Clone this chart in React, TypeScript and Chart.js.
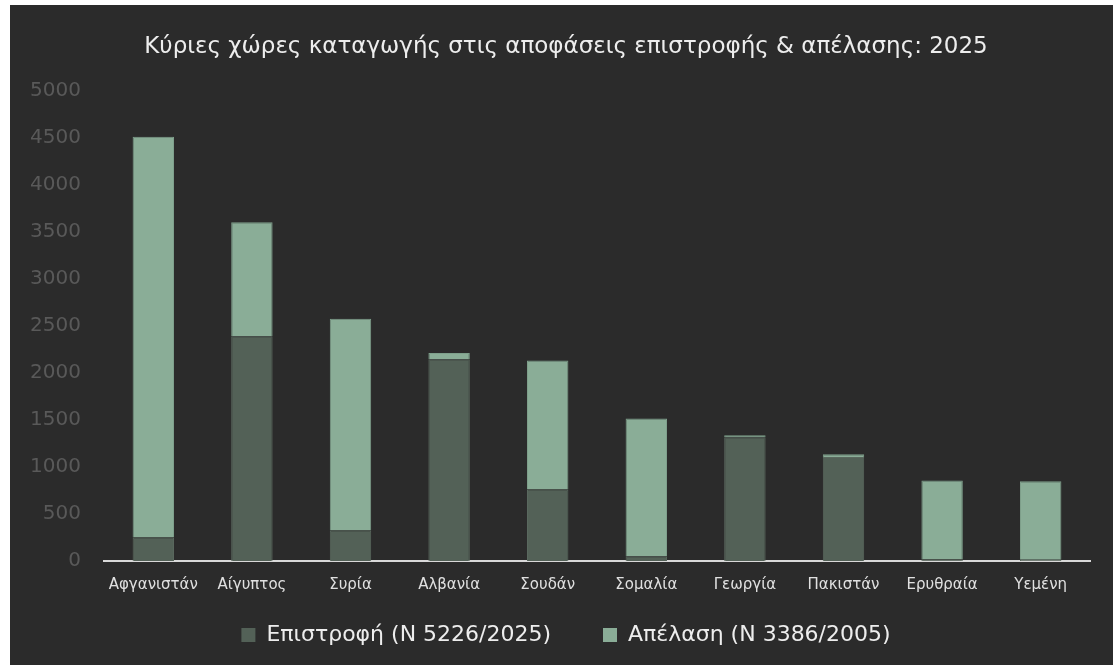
import React, { useEffect, useRef } from "react";
import { Chart, registerables } from "chart.js";

Chart.register(...registerables);

const categories = [
  "Αφγανιστάν",
  "Αίγυπτος",
  "Συρία",
  "Αλβανία",
  "Σουδάν",
  "Σομαλία",
  "Γεωργία",
  "Πακιστάν",
  "Ερυθραία",
  "Υεμένη",
];
const returnValues = [250, 2390, 325, 2145, 760, 50, 1315, 1105, 15, 12];
const deportValues = [4260, 1210, 2250, 65, 1370, 1465, 22, 30, 840, 835];
const yTicks = [0, 500, 1000, 1500, 2000, 2500, 3000, 3500, 4000, 4500, 5000];

const titleText = "Κύριες χώρες καταγωγής στις αποφάσεις επιστροφής & απέλασης: 2025";
const returnLabel = "Επιστροφή (Ν 5226/2025)";
const deportLabel = "Απέλαση (Ν 3386/2005)";

const FONT = "'DejaVu Sans', 'Noto Sans', sans-serif";

// lets the y-axis tick labels extend into the left padding without being clipped
const unclipYLabels = {
  id: "unclipYLabels",
  afterLayout(chart: any) {
    if (chart.scales.y) chart.scales.y.left = 0;
  },
};

export default function App() {
  const ref = useRef<HTMLCanvasElement | null>(null);

  useEffect(() => {
    if (!ref.current) return;
    const defaultLabels = (Chart as any).defaults.plugins.legend.labels.generateLabels;
    const chart = new Chart(ref.current, {
      type: "bar",
      data: {
        labels: categories,
        datasets: [
          {
            label: returnLabel,
            data: returnValues,
            backgroundColor: "#536157",
            borderColor: "#5a685e",
            borderWidth: 1,
            barPercentage: 0.42,
            categoryPercentage: 1,
          },
          {
            label: deportLabel,
            data: deportValues,
            backgroundColor: "#8aad97",
            borderColor: "#7e9f8b",
            borderWidth: 1,
            barPercentage: 0.42,
            categoryPercentage: 1,
          },
        ],
      },
      plugins: [unclipYLabels],
      options: {
        animation: false,
        responsive: true,
        maintainAspectRatio: false,
        layout: { padding: { left: 32, right: 23, top: 0, bottom: 9 } },
        plugins: {
          tooltip: { enabled: false },
          title: {
            display: true,
            text: titleText,
            color: "#ededed",
            font: { family: FONT, size: 23, weight: "normal" },
            padding: { top: 28, bottom: 30 },
          },
          legend: {
            position: "bottom",
            labels: {
              color: "#ededed",
              font: { family: FONT, size: 22 },
              boxWidth: 14,
              boxHeight: 14,
              padding: 10,
              generateLabels: (c: any) => {
                const items = defaultLabels(c);
                items.forEach((it: any, i: number) => {
                  it.lineWidth = 0;
                  if (i < items.length - 1) it.text = it.text + "      ";
                });
                return items;
              },
            },
          },
        },
        scales: {
          x: {
            stacked: true,
            grid: { display: false, drawTicks: false },
            border: { display: true, color: "#d9d9d9", width: 2 },
            ticks: {
              color: "#e0e0e0",
              font: { family: FONT, size: 15 },
              padding: 15,
              maxRotation: 0,
              autoSkip: false,
            },
            afterFit: (s: any) => {
              s.height = 53;
            },
          },
          y: {
            stacked: true,
            min: 0,
            max: 5000,
            afterBuildTicks: (s: any) => {
              s.ticks = yTicks.map((v) => ({ value: v }));
            },
            grid: { display: false, drawTicks: false },
            border: { display: false },
            ticks: {
              color: "#595959",
              font: { family: FONT, size: 20 },
              padding: 23,
              callback: (v: any) => String(v),
            },
            afterFit: (s: any) => {
              s.width = 62;
            },
          },
        },
      },
    });
    return () => chart.destroy();
  }, []);

  return (
    <div
      style={{
        position: "absolute",
        left: 10,
        top: 5,
        width: 1103,
        height: 660,
        background: "#2b2b2b",
      }}
    >
      <canvas ref={ref} />
    </div>
  );
}
